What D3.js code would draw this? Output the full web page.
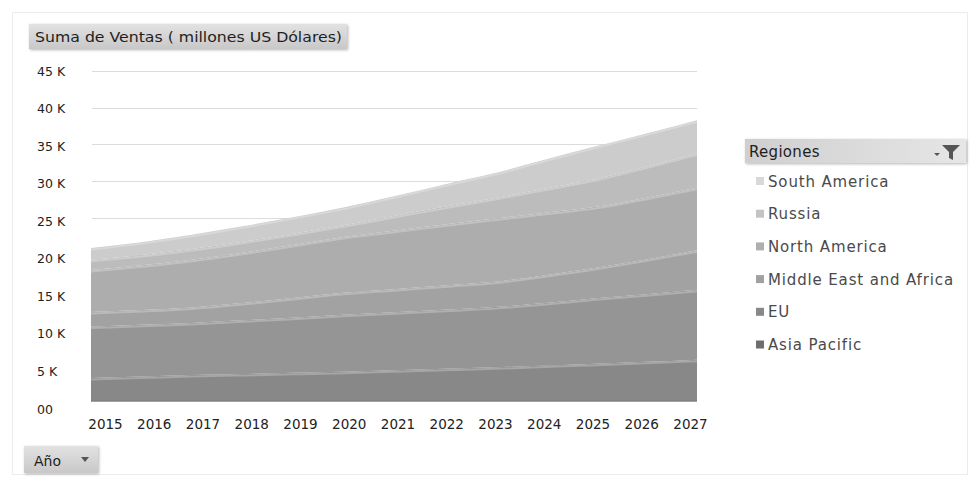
<!DOCTYPE html>
<html><head><meta charset="utf-8">
<script src="https://cdn.jsdelivr.net/npm/d3@7"></script>
<style>
html,body{margin:0;padding:0;background:#fff;}
svg{display:block;}
</style></head>
<body>
<svg id="chart" width="972" height="479"></svg>
<script>
// ---- data (thousands of US$ millions) ----
const years = ["2015","2016","2017","2018","2019","2020","2021","2022","2023","2024","2025","2026","2027"];
const regions = ["Asia Pacific","EU","Middle East and Africa","North America","Russia","South America"];
const asiaPacific  = [3.2,3.4,3.6,3.75,3.9,4.05,4.25,4.45,4.65,4.9,5.15,5.4,5.7];
const eu           = [7.0,7.05,7.1,7.3,7.5,7.75,7.9,8.05,8.2,8.5,8.9,9.2,9.5];
const middleEast   = [2.0,2.0,2.1,2.35,2.7,3.0,3.15,3.3,3.45,3.8,4.15,4.75,5.4];
const northAmerica = [5.7,6.1,6.5,6.85,7.2,7.6,7.95,8.3,8.6,8.5,8.3,8.4,8.5];
const russia       = [1.4,1.4,1.45,1.5,1.55,1.6,2.0,2.4,2.8,3.3,3.8,4.25,4.7];
const southAmerica = [1.6,1.75,1.95,2.1,2.25,2.4,2.7,3.05,3.4,3.95,4.45,4.5,4.5];
const yTicks = [0,5,10,15,20,25,30,35,40,45];
const yTickLabels = ["00","5 K","10 K","15 K","20 K","25 K","30 K","35 K","40 K","45 K"];
const titleText = "Suma de Ventas ( millones US Dólares)";
const legendTitle = "Regiones";
const axisButton = "Año";

const seriesValues = [asiaPacific, eu, middleEast, northAmerica, russia, southAmerica];
const fills   = ["#888888","#959595","#a2a2a2","#adadad","#bcbcbc","#cccccc"];
const swatch  = ["#6e6e6e","#888888","#a0a0a0","#b0b0b0","#c4c4c4","#d8d8d8"];

const table = years.map((y,i)=>{
  const row = {year:y};
  regions.forEach((r,k)=>row[r]=seriesValues[k][i]*1000);
  return row;
});

const svg = d3.select("#chart");
const defs = svg.append("defs");

const g1 = defs.append("linearGradient").attr("id","btn").attr("x1",0).attr("y1",0).attr("x2",0).attr("y2",1);
g1.append("stop").attr("offset","0%").attr("stop-color","#e2e2e2");
g1.append("stop").attr("offset","100%").attr("stop-color","#c8c8c8");
const g2 = defs.append("linearGradient").attr("id","hdr").attr("x1",0).attr("y1",0).attr("x2",1).attr("y2",0);
g2.append("stop").attr("offset","0%").attr("stop-color","#cfcfcf");
g2.append("stop").attr("offset","100%").attr("stop-color","#e6e6e6");
const blur = defs.append("filter").attr("id","sh").attr("x","-10%").attr("y","-20%").attr("width","120%").attr("height","150%");
blur.append("feGaussianBlur").attr("in","SourceAlpha").attr("stdDeviation",1.5);
blur.append("feOffset").attr("dx",1).attr("dy",1).attr("result","o");
blur.append("feComponentTransfer").append("feFuncA").attr("type","linear").attr("slope",0.3);
const m = blur.append("feMerge"); m.append("feMergeNode"); m.append("feMergeNode").attr("in","SourceGraphic");

// outer frame
svg.append("rect").attr("x",12.5).attr("y",12.5).attr("width",955).attr("height",462)
  .attr("fill","none").attr("stroke","#ececec");

// scales
const x = d3.scalePoint().domain(years).range([91,697]);
const xLab = d3.scalePoint().domain(years).range([105,690]);
const y = d3.scaleLinear().domain([0,45000]).range([401.5,71]);
const yLab = d3.scaleLinear().domain([0,45000]).range([409,71]);

// gridlines
svg.append("g").selectAll("line").data(yTicks.filter(v=>v>0)).join("line")
  .attr("x1",92).attr("x2",697)
  .attr("y1",d=>Math.round(y(d*1000))+0.5).attr("y2",d=>Math.round(y(d*1000))+0.5)
  .attr("stroke","#dcdcdc").attr("stroke-width",1);

// stacked areas
const stack = d3.stack().keys(regions);
const layers = stack(table);
const area = d3.area().x(d=>x(d.data.year)).y0(d=>y(d[0])).y1(d=>y(d[1])).curve(d3.curveMonotoneX);
const topLine = d3.line().x(d=>x(d.data.year)).y(d=>y(d[1])).curve(d3.curveMonotoneX);
const gA = svg.append("g");
gA.selectAll("path.a").data(layers).join("path").attr("class","a")
  .attr("d",area).attr("fill",(d,i)=>fills[i]);
gA.selectAll("path.h").data(layers).join("path").attr("class","h")
  .attr("d",topLine).attr("fill","none").attr("stroke","#ffffff").attr("stroke-opacity",0.25).attr("stroke-width",2)
  .attr("transform","translate(0,1.5)");
gA.append("line").attr("x1",91).attr("x2",697).attr("y1",y(0)-0.5).attr("y2",y(0)-0.5)
  .attr("stroke","#7a7a7a").attr("stroke-width",1.5).attr("stroke-opacity",0.6);

// y labels
svg.append("g").selectAll("text").data(yTicks).join("text")
  .attr("x",37).attr("y",(d)=>yLab(d*1000)+4.5)
  .attr("font-family","DejaVu Sans, Verdana, sans-serif").attr("font-size",12.5).attr("fill","#222")
  .text((d,i)=>yTickLabels[i]);

// x axis labels
const xAxis = d3.axisBottom(xLab).tickSize(0).tickPadding(0);
const gx = svg.append("g").attr("transform","translate(0,419)").call(xAxis);
gx.select(".domain").remove();
gx.selectAll("text").attr("font-family","DejaVu Sans, Verdana, sans-serif").attr("font-size",13.5).attr("fill","#222").attr("dy","0.71em");

// title button
svg.append("rect").attr("x",29).attr("y",24).attr("width",318).attr("height",25)
  .attr("fill","url(#btn)").attr("filter","url(#sh)");
svg.append("text").attr("x",35).attr("y",42).attr("font-family","DejaVu Sans, Verdana, sans-serif")
  .attr("font-size",14.5).attr("fill","#1e1e1e")
  .attr("textLength",307).attr("lengthAdjust","spacingAndGlyphs").text(titleText);

// Año button
svg.append("rect").attr("x",24).attr("y",446).attr("width",74).attr("height",27)
  .attr("fill","url(#btn)").attr("filter","url(#sh)");
svg.append("text").attr("x",34).attr("y",466).attr("font-family","DejaVu Sans, Verdana, sans-serif")
  .attr("font-size",14).attr("fill","#1e1e1e").text(axisButton);
svg.append("path").attr("d","M81,457 L89,457 L85,462 Z").attr("fill","#555");

// legend header
svg.append("rect").attr("x",745).attr("y",139).attr("width",221).attr("height",24)
  .attr("fill","url(#hdr)").attr("filter","url(#sh)");
svg.append("text").attr("x",749).attr("y",157).attr("font-family","DejaVu Sans, sans-serif")
  .attr("font-size",15).attr("letter-spacing",0.3).attr("fill","#1e1e1e").text(legendTitle);
svg.append("path").attr("d","M942,145 L960,145 L953,152 L953,160 L949,158 L949,152 Z").attr("fill","#555");
svg.append("path").attr("d","M934,153 L940,153 L937,156 Z").attr("fill","#555");

// legend entries (top: South America ... bottom: Asia Pacific)
const legOrder = regions.map((r,i)=>({r,i})).reverse();
const lg = svg.append("g").selectAll("g").data(legOrder).join("g")
  .attr("transform",(d,k)=>`translate(0,${181 + k*32.7})`);
lg.append("rect").attr("x",756).attr("y",-4).attr("width",8).attr("height",8).attr("fill",d=>swatch[d.i]);
lg.append("text").attr("x",768).attr("y",5.5).attr("font-family","DejaVu Sans, sans-serif")
  .attr("font-size",15).attr("letter-spacing",0.85).attr("fill","#4a4a4a").text(d=>d.r);
</script>
</body></html>
